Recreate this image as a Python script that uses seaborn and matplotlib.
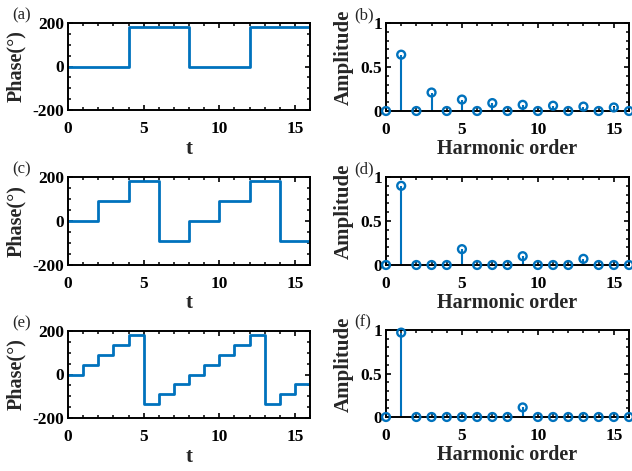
import matplotlib
matplotlib.use("Agg")
import matplotlib.pyplot as plt
from matplotlib.ticker import MultipleLocator
import seaborn as sns
import pandas as pd

# phase steps (value holds from t until next t)
t_a = [0, 4, 8, 12, 16]
phase_a = [0, 180, 0, 180, 0]
t_c = [0, 2, 4, 6, 8, 10, 12, 14, 16]
phase_c = [0, 90, 180, -90, 0, 90, 180, -90, 0]
t_e = list(range(17))
phase_e = [0, 45, 90, 135, 180, -135, -90, -45, 0, 45, 90, 135, 180, -135, -90, -45, 0]

orders = list(range(17))
amp_b = [0, 0.64, 0, 0.21, 0, 0.13, 0, 0.09, 0, 0.07, 0, 0.06, 0, 0.05, 0, 0.04, 0]
amp_d = [0, 0.90, 0, 0, 0, 0.18, 0, 0, 0, 0.10, 0, 0, 0, 0.07, 0, 0, 0]
amp_f = [0, 0.97, 0, 0, 0, 0, 0, 0, 0, 0.11, 0, 0, 0, 0, 0, 0, 0]

BLUE = "#0072BD"

sns.set_theme(style="ticks")
plt.rcParams["font.family"] = ["Liberation Serif", "DejaVu Serif"]
plt.rcParams.update({
    "font.weight": "bold",
    "axes.labelweight": "bold",
    "axes.unicode_minus": False,
    "axes.linewidth": 1.4,
    "xtick.direction": "in",
    "ytick.direction": "in",
    "xtick.top": True,
    "ytick.right": True,
    "xtick.major.size": 3.5,
    "ytick.major.size": 3.5,
    "xtick.minor.size": 2.5,
    "ytick.minor.size": 2.5,
    "xtick.major.width": 1.2,
    "ytick.major.width": 1.2,
    "xtick.minor.width": 1.1,
    "ytick.minor.width": 1.1,
    "xtick.labelsize": 12.5,
    "ytick.labelsize": 12.5,
    "xtick.color": "black",
    "ytick.color": "black",
    "axes.edgecolor": "black",
})

fig = plt.figure(figsize=(6.32, 4.71), dpi=100)
W, H = 632, 471


def px_axes(left, top, right, bottom):
    return fig.add_axes([left / W, (H - bottom) / H, (right - left) / W, (bottom - top) / H])


def tag(x, y, s):
    fig.text(x / W, 1 - y / H, s, fontsize=12, fontweight="normal", va="top", ha="left")


def phase_panel(ax, t, ph):
    df = pd.DataFrame({"t": t, "phase": ph})
    sns.lineplot(data=df, x="t", y="phase", ax=ax, color=BLUE, linewidth=2.0,
                 drawstyle="steps-post", estimator=None, sort=False)
    ax.set_xlim(0, 16)
    ax.set_ylim(-200, 200)
    ax.set_xticks([0, 5, 10, 15])
    ax.set_yticks([-200, 0, 200])
    ax.xaxis.set_minor_locator(MultipleLocator(1))
    ax.yaxis.set_minor_locator(MultipleLocator(50))
    ax.tick_params(axis="x", pad=8)
    ax.tick_params(axis="y", pad=3)
    ax.set_xlabel("t", fontsize=15, labelpad=1)
    ax.set_ylabel("Phase(°)", fontsize=14.5)
    ax.yaxis.set_label_coords(-0.172, 0.5)


def amp_panel(ax, amp):
    df = pd.DataFrame({"order": orders, "amp": amp})
    ax.vlines(df["order"], 0, df["amp"], color=BLUE, linewidth=1.5)
    sns.scatterplot(data=df, x="order", y="amp", ax=ax, marker="o", s=32,
                    facecolor="none", edgecolor=BLUE, linewidth=1.7,
                    clip_on=False, zorder=5)
    ax.set_xlim(0, 16)
    ax.set_ylim(0, 1)
    ax.set_xticks([0, 5, 10, 15])
    ax.set_yticks([0, 0.5, 1])
    ax.set_yticklabels(["0", "0.5", "1"])
    ax.xaxis.set_minor_locator(MultipleLocator(1))
    ax.yaxis.set_minor_locator(MultipleLocator(0.1))
    ax.tick_params(axis="x", pad=8)
    ax.tick_params(axis="y", pad=3)
    ax.set_xlabel("Harmonic order", fontsize=14.5, labelpad=1)
    ax.set_ylabel("Amplitude", fontsize=15)
    ax.yaxis.set_label_coords(-0.134, 0.61)


ax_a = px_axes(68, 23, 310, 110)
ax_b = px_axes(386, 23, 629, 111)
ax_c = px_axes(68, 177, 310, 265)
ax_d = px_axes(386, 177, 629, 265)
ax_e = px_axes(68, 331, 310, 418)
ax_f = px_axes(386, 330, 629, 417)

phase_panel(ax_a, t_a, phase_a)
phase_panel(ax_c, t_c, phase_c)
phase_panel(ax_e, t_e, phase_e)
amp_panel(ax_b, amp_b)
amp_panel(ax_d, amp_d)
amp_panel(ax_f, amp_f)

tag(12, 7, "(a)")
tag(354, 7, "(b)")
tag(12, 161, "(c)")
tag(354, 161, "(d)")
tag(12, 315, "(e)")
tag(354, 314, "(f)")

fig.savefig("out.png", dpi=100)
